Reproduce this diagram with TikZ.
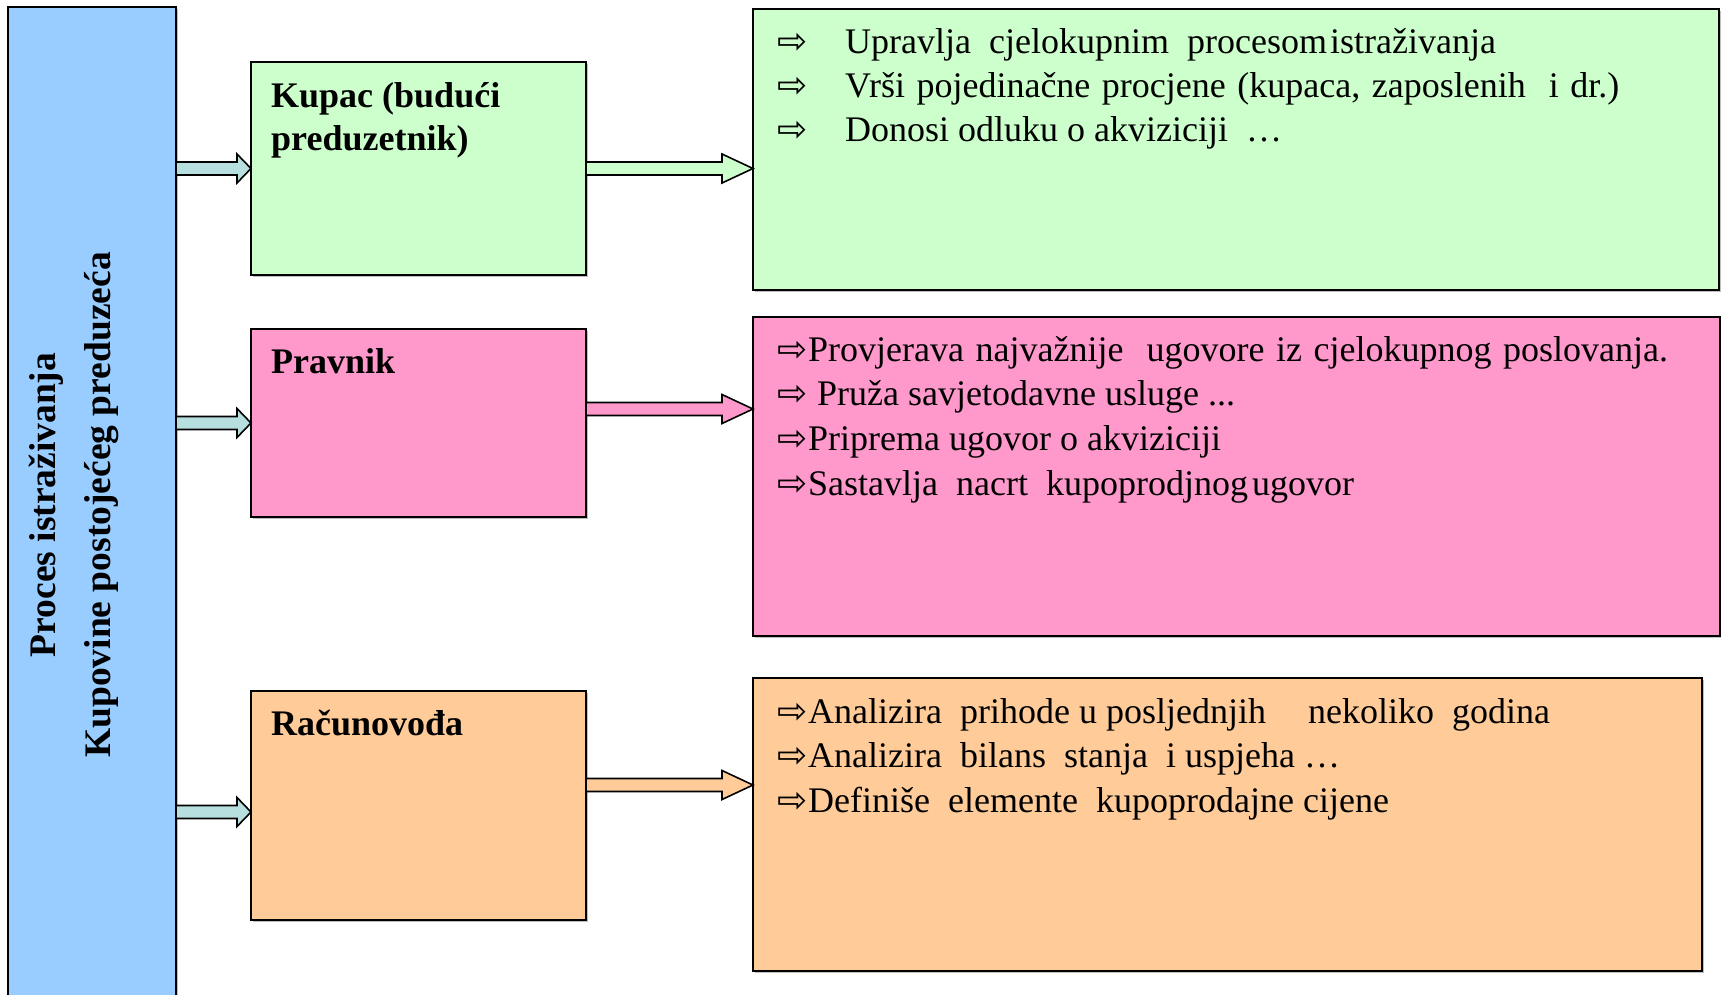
\documentclass[tikz,border=0pt]{standalone}
\usepackage{fontspec}
\setmainfont{Liberation Serif}
\newfontfamily\arrfont{DejaVu Sans}
\usetikzlibrary{calc,shadows}
\definecolor{barblue}{HTML}{99CCFF}
\definecolor{bgreen}{HTML}{CCFFCC}
\definecolor{bpink}{HTML}{FF99CC}
\definecolor{borange}{HTML}{FFCC99}
\definecolor{bteal}{HTML}{B7DFE0}
\newcommand{\arr}{{\arrfont\fontsize{36}{36}\selectfont ⇨}}
\tikzset{
  box/.style={draw=black, line width=1.8pt, anchor=north west, inner sep=0pt, outer sep=0pt,
    drop shadow={shadow xshift=2pt, shadow yshift=-2pt, fill=black, opacity=0.25}},
  lbl/.style={anchor=base west, inner sep=0pt, font=\bfseries\fontsize{36}{44}\selectfont},
  txt/.style={anchor=base west, inner sep=0pt, font=\fontsize{36}{44}\selectfont},
  bartxt/.style={anchor=base, rotate=90, inner sep=0pt, font=\bfseries\fontsize{37.5}{44}\selectfont},
  blockarrow/.style 2 args={draw=black, line width=1.6pt, fill=#2, line join=miter,
    to path={let \p1=(\tikztostart), \p2=(\tikztotarget) in
      (\x1,{\y1+6.5pt}) -- ({\x2-#1},{\y1+6.5pt}) -- ({\x2-#1},{\y1+14.5pt}) -- (\x2,\y1)
      -- ({\x2-#1},{\y1-14.5pt}) -- ({\x2-#1},{\y1-6.5pt}) -- (\x1,{\y1-6.5pt}) -- cycle}}
}
\begin{document}
\begin{tikzpicture}[x=1pt, y=-1pt]
\useasboundingbox (0,0) rectangle (1721,994);
% left bar
\node[box, fill=barblue, minimum width=168pt, minimum height=1000pt] (bar) at (8,7) {};
\node[bartxt] (bt1) at (55,505) {Proces istraživanja};
\node[bartxt] (bt2) at (110,505) {Kupovine postojećeg preduzeća};
% role boxes
\node[box, fill=bgreen, minimum width=335pt, minimum height=213pt] (kupac) at (251,62) {};
\node[box, fill=bpink, minimum width=335pt, minimum height=188pt] (pravnik) at (251,329) {};
\node[box, fill=borange, minimum width=335pt, minimum height=229pt] (rac) at (251,691) {};
% big boxes
\node[box, fill=bgreen, minimum width=966pt, minimum height=281pt] (gbig) at (753,9) {};
\node[box, fill=bpink, minimum width=967pt, minimum height=319pt] (pbig) at (753,317) {};
\node[box, fill=borange, minimum width=949pt, minimum height=293pt] (obig) at (753,678) {};
% labels
\node[lbl] (l1a) at (271,107) {Kupac (budući};
\node[lbl] (l1b) at (271,150) {preduzetnik)};
\node[lbl] (l2) at (271,373) {Pravnik};
\node[lbl] (l3) at (271,735) {Računovođa};
% green text
\node[txt] (g1) at (777,53) {\makebox[68pt][l]{\arr}Upravlja\ \ cjelokupnim\ \ procesom\hspace{3pt}istraživanja};
\node[txt] (g2) at (777,97) {\makebox[68pt][l]{\arr}\spaceskip=11.5pt Vrši pojedinačne procjene (kupaca, zaposlenih\ \ i dr.)};
\node[txt] (g3) at (777,141) {\makebox[68pt][l]{\arr}Donosi odluku o akviziciji\ \ …};
% pink text
\node[txt] (p1) at (777,361) {\makebox[31pt][l]{\arr}\spaceskip=11.5pt Provjerava najvažnije\ \ ugovore iz cjelokupnog poslovanja.};
\node[txt] (p2) at (777,405) {\makebox[31pt][l]{\arr}\hspace{9pt}Pruža savjetodavne usluge ...};
\node[txt] (p3) at (777,450) {\makebox[31pt][l]{\arr}Priprema ugovor o akviziciji};
\node[txt] (p4) at (777,495) {\makebox[31pt][l]{\arr}Sastavlja\ \ nacrt\ \ kupoprodjnog\hspace{4pt}ugovor};
% orange text
\node[txt] (o1) at (777,723) {\makebox[31pt][l]{\arr}Analizira\ \ prihode u posljednjih\hspace{42pt}nekoliko\ \ godina};
\node[txt] (o2) at (777,767) {\makebox[31pt][l]{\arr}Analizira\ \ bilans\ \ stanja\ \ i uspjeha …};
\node[txt] (o3) at (777,812) {\makebox[31pt][l]{\arr}Definiše\ \ elemente\ \ kupoprodajne cijene};
% arrows bar -> roles
\draw[blockarrow={14pt}{bteal}] (bar.east |- kupac.west) to (kupac.west);
\draw[blockarrow={14pt}{bteal}] (bar.east |- pravnik.west) to (pravnik.west);
\draw[blockarrow={14pt}{bteal}] ([yshift=-6.5pt]bar.east |- rac.west) to ([yshift=-6.5pt]rac.west);
% arrows roles -> descriptions
\draw[blockarrow={31pt}{bgreen}] (kupac.east) to (gbig.west |- kupac.east);
\draw[blockarrow={31pt}{bpink}] ([yshift=14pt]pravnik.east) to (pbig.west |- pravnik.east);
\draw[blockarrow={31pt}{borange}] ([yshift=20.5pt]rac.east) to (obig.west |- rac.east);
\end{tikzpicture}
\end{document}
